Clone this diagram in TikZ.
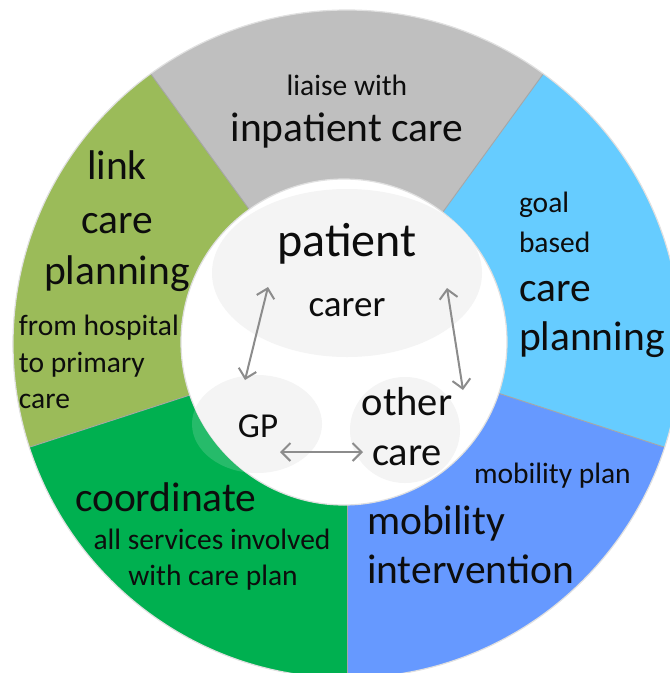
\documentclass[tikz,border=0pt]{standalone}
\usepackage{fontspec}
\setmainfont{Carlito}
\usetikzlibrary{arrows.meta}
\definecolor{segGray}{HTML}{BFBFBF}
\definecolor{segOlive}{HTML}{9BBB59}
\definecolor{segSky}{HTML}{66CCFF}
\definecolor{segGreen}{HTML}{00B050}
\definecolor{segBlue}{HTML}{6699FF}
\definecolor{rimGray}{HTML}{A6A6A6}
\definecolor{arrowGray}{HTML}{8C8C8C}
\definecolor{bubble}{HTML}{F4F4F4}
\definecolor{ink}{HTML}{0D0D0D}
\newcommand{\fs}[1]{\fontsize{#1}{#1}\selectfont}
\begin{document}
\begin{tikzpicture}[x=1pt,y=-1pt,
  divider/.style={draw=rimGray,line width=0.9pt},
  rim/.style={draw=black!12,line width=1.2pt},
  lbl/.style={inner sep=0pt,outer sep=0pt,text=ink},
  big/.style={lbl,font=\fs{41.5}},
  small/.style={lbl,font=\fs{29.5}},
  link/.style={draw=arrowGray,line width=2pt,
    {Straight Barb[length=9pt,width=18pt]}-{Straight Barb[length=9pt,width=18pt]}}
]
\useasboundingbox (0,0) rectangle (670,673);
\clip (0,0) rectangle (670,673);

% ring centre and radii
\coordinate (O) at (347,344);
\coordinate (I) at (344,342);

% five ring segments
\fill[segGray]  (O) -- ++(-126:334) arc[start angle=-126,end angle=-54,radius=334] -- cycle;
\fill[segOlive] (O) -- ++(-198:334) arc[start angle=-198,end angle=-126,radius=334] -- cycle;
\fill[segGreen] (O) -- ++(-270:334) arc[start angle=-270,end angle=-198,radius=334] -- cycle;
\fill[segBlue]  (O) -- ++(-342:334) arc[start angle=-342,end angle=-270,radius=334] -- cycle;
\fill[segSky]   (O) -- ++(18:334)   arc[start angle=18,end angle=-54,radius=334] -- cycle;
\foreach \a in {-54,-126,-198,90,18} \draw[divider] (O) -- ++(\a:334);
\draw[rim] (O) circle[radius=334];

% translucent bubbles spilling over the ring
\fill[white,opacity=0.15] (257,424) ellipse[x radius=65,y radius=49];
\fill[white,opacity=0.15] (405,430) ellipse[x radius=55,y radius=53];

% inner disc
\fill[white] (I) circle[radius=163];
\draw[rim] (I) circle[radius=163];
\begin{scope}
  \clip (I) circle[radius=163];
  \fill[bubble] (347,273) ellipse[x radius=135,y radius=84];
  \fill[bubble] (257,424) ellipse[x radius=65,y radius=49];
  \fill[bubble] (405,430) ellipse[x radius=55,y radius=53];
\end{scope}

% top segment
\node[small,anchor=base] (liaise) at (347,95) {liaise with};
\node[big,anchor=base] (inpatient) at (347,141) {inpatient care};

% upper left segment
\node[big,anchor=base] (link1) at (117,179) {link};
\node[big,anchor=base] (link2) at (117,233) {care};
\node[big,anchor=base] (link3) at (117,284) {planning};
\node[small,anchor=base west] (from1) at (19,335) {from hospital};
\node[small,anchor=base west] (from2) at (19,372) {to primary};
\node[small,anchor=base west] (from3) at (19,408) {care};

% right segment
\node[small,anchor=base west] (goal1) at (519,212) {goal};
\node[small,anchor=base west] (goal2) at (519,252) {based};
\node[big,anchor=base west] (goal3) at (519,301) {care};
\node[big,anchor=base west] (goal4) at (519,350) {planning};

% lower right segment
\node[small,anchor=base west] (mobplan) at (474,483) {mobility plan};
\node[big,anchor=base west] (mob1) at (367,534) {mobility};
\node[big,anchor=base west] (mob2) at (367,583) {intervention};

% lower left segment
\node[big,anchor=base west] (coord) at (75,511) {coordinate};
\node[small,anchor=base] (coord1) at (212,549) {all services involved};
\node[small,anchor=base] (coord2) at (213,585) {with care plan};

% centre
\node[lbl,font=\fs{48},anchor=base] (patient) at (347,256) {patient};
\node[lbl,font=\fs{37},anchor=base] (carer) at (347,316) {carer};
\node[lbl,font=\fs{35},anchor=base] (gp) at (258,437) {GP};
\node[lbl,font=\fs{40.5},anchor=base] (other1) at (407,415) {other};
\node[lbl,font=\fs{40.5},anchor=base] (other2) at (407,465) {care};

% arrow ends
\coordinate (pcL) at (268,287);
\coordinate (gpT) at (245,380);
\coordinate (pcR) at (447,288);
\coordinate (ocT) at (463,390);
\coordinate (gpR) at (280,452);
\coordinate (ocL) at (363,452);
\draw[link] (pcL) -- (gpT);
\draw[link] (pcR) -- (ocT);
\draw[link] (gpR) -- (ocL);
\end{tikzpicture}
\end{document}
